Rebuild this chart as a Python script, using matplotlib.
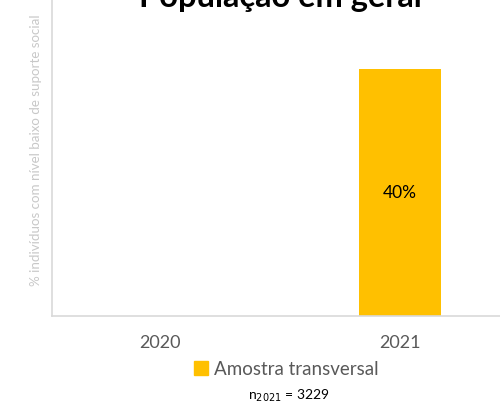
import matplotlib
matplotlib.use("Agg")
import matplotlib.pyplot as plt
from matplotlib.patches import Patch

categories = ["2020", "2021"]
values = [None, 40]
labels = ["", "40%"]
series_name = "Amostra transversal"
title = "População em geral"
ylabel = "% indivíduos com nível baixo de suporte social"
note = r"n$_{2021}$ = 3229"

plt.rcParams['font.family'] = ['Lato', 'DejaVu Sans']
W, H = 500, 406
fig = plt.figure(figsize=(W/100, H/100), dpi=100)
ax = fig.add_axes([52/W, 1 - 317/H, (500-52)/W, 317/H])

color = "#FFC000"
xs = list(range(len(categories)))
for x, v, lab in zip(xs, values, labels):
    if v is None:
        continue
    ax.bar(x, v, width=0.34, color=color, zorder=2)
    ax.text(x, v/2, lab, ha="center", va="center", fontsize=12.5, color="black")

ax.set_xlim((52-160)/240, (500-160)/240)
ax.set_ylim(0, 40*317/247)
ax.set_xticks(xs)
ax.set_xticklabels(categories, fontsize=13, color="#595959")
ax.tick_params(axis="x", length=0, pad=13)
ax.set_yticks([])
for s in ["top", "right"]:
    ax.spines[s].set_visible(False)
for s in ["left", "bottom"]:
    ax.spines[s].set_color("#d9d9d9")
    ax.spines[s].set_linewidth(1.2)

fig.text(36/W, 1 - 150/H, ylabel, rotation=90, ha="center", va="center",
         fontsize=9.6, color="#c8c8c8")
fig.text(280/W, 1 - 7/H, title, ha="center", va="baseline", fontsize=23.5,
         fontweight="bold", color="black")

leg = fig.legend(handles=[Patch(color=color, label=series_name)],
                 loc="center", bbox_to_anchor=(286/W, 1 - 370/H), frameon=False,
                 fontsize=13.5, handlelength=0.75, handleheight=0.75, handletextpad=0.3,
                 labelcolor="#595959")
fig.text(289/W, 1 - 396/H, note, ha="center", va="center", fontsize=10, color="black")

fig.savefig("out.png", dpi=100)
